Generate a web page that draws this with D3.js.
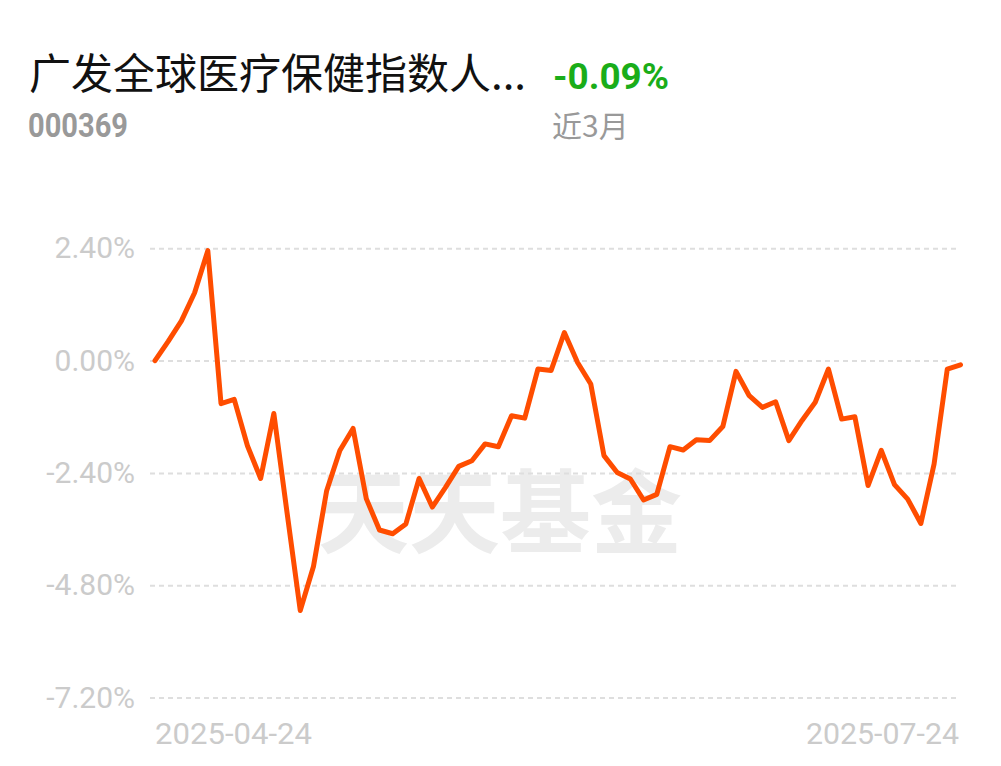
<!DOCTYPE html>
<html>
<head>
<meta charset="utf-8">
<script src="https://cdn.jsdelivr.net/npm/d3@7"></script>
<style>
html,body{margin:0;padding:0;background:#fff;}
svg{display:block;}
</style>
</head>
<body>
<div id="chart"></div>
<script>
const fundName = "广发全球医疗保健指数人...";
const fundCode = "000369";
const periodReturn = "-0.09%";
const periodLabel = "近3月";
const watermark = "天天基金";
const yTicks = [2.4, 0, -2.4, -4.8, -7.2];
const xTickLabels = ["2025-04-24", "2025-07-24"];
const values = [0, 0.41, 0.85, 1.45, 2.35, -0.92, -0.83, -1.82, -2.52, -1.13,
  -3.25, -5.34, -4.40, -2.78, -1.92, -1.45, -2.95, -3.62, -3.70, -3.49,
  -2.52, -3.13, -2.71, -2.26, -2.14, -1.78, -1.84, -1.18, -1.23, -0.18,
  -0.21, 0.60, -0.04, -0.50, -2.03, -2.39, -2.53, -2.98, -2.86, -1.84,
  -1.91, -1.69, -1.71, -1.41, -0.23, -0.75, -1.00, -0.88, -1.71, -1.28,
  -0.89, -0.18, -1.25, -1.20, -2.67, -1.92, -2.65, -2.96, -3.48, -2.21,
  -0.18, -0.09];

const W = 1001, H = 766;
const svg = d3.select("#chart").append("svg").attr("width", W).attr("height", H);

const x = d3.scaleLinear().domain([0, values.length - 1]).range([155, 960.5]);
const y = d3.scaleLinear().domain([-7.2, 2.4]).range([697.5, 248.3]);

// Header
svg.append("text").attr("x", 29).attr("y", 89)
  .attr("font-family", "'Noto Sans CJK SC', sans-serif").attr("font-size", 42)
  .attr("fill", "#111").text(fundName);
svg.append("text").attr("x", 28).attr("y", 137)
  .attr("font-family", "Roboto, sans-serif").attr("font-weight", "bold").attr("font-size", 33)
  .attr("fill", "#999").attr("textLength", 100).attr("lengthAdjust", "spacingAndGlyphs").text(fundCode);
svg.append("text").attr("x", 553).attr("y", 89)
  .attr("font-family", "Roboto, sans-serif").attr("font-weight", "bold").attr("font-size", 37)
  .attr("fill", "#1aad19").attr("textLength", 116).attr("lengthAdjust", "spacingAndGlyphs").text(periodReturn);
svg.append("text").attr("x", 552).attr("y", 137)
  .attr("font-family", "'Noto Sans CJK SC', sans-serif").attr("font-size", 30)
  .attr("fill", "#999").text(periodLabel);

// Watermark
svg.append("text").attr("x", 500).attr("y", 546).attr("text-anchor", "middle")
  .attr("font-family", "'Noto Sans CJK SC', sans-serif").attr("font-weight", "bold").attr("font-size", 91)
  .attr("fill", "#ececec").text(watermark);

// Y axis with gridlines
const yAxis = d3.axisLeft(y).tickValues(yTicks)
  .tickSize(-(958 - 150)).tickPadding(15)
  .tickFormat(d => d.toFixed(2) + "%");
const gy = svg.append("g").attr("transform", "translate(150,0)").call(yAxis);
gy.select(".domain").remove();
gy.selectAll(".tick line").attr("stroke", "#dedede").attr("stroke-width", 2).attr("stroke-dasharray", "5 4");
gy.selectAll(".tick text").attr("font-family", "Roboto, sans-serif").attr("font-size", 30)
  .attr("fill", "#cbcbcb").attr("x", -15);

// X labels
const xl = svg.append("g");
xl.append("text").attr("x", x(0)).attr("y", 744).attr("text-anchor", "start")
  .attr("font-family", "Roboto, sans-serif").attr("font-size", 30).attr("fill", "#cbcbcb")
  .attr("textLength", 157).attr("lengthAdjust", "spacingAndGlyphs").text(xTickLabels[0]);
xl.append("text").attr("x", 806).attr("y", 744).attr("text-anchor", "start")
  .attr("font-family", "Roboto, sans-serif").attr("font-size", 30).attr("fill", "#cbcbcb")
  .attr("textLength", 153).attr("lengthAdjust", "spacingAndGlyphs").text(xTickLabels[1]);

// Line
const line = d3.line().x((d, i) => x(i)).y(d => y(d));
svg.append("path").datum(values).attr("d", line)
  .attr("fill", "none").attr("stroke", "#ff4d00").attr("stroke-width", 5)
  .attr("stroke-linejoin", "round").attr("stroke-linecap", "round");
</script>
</body>
</html>
